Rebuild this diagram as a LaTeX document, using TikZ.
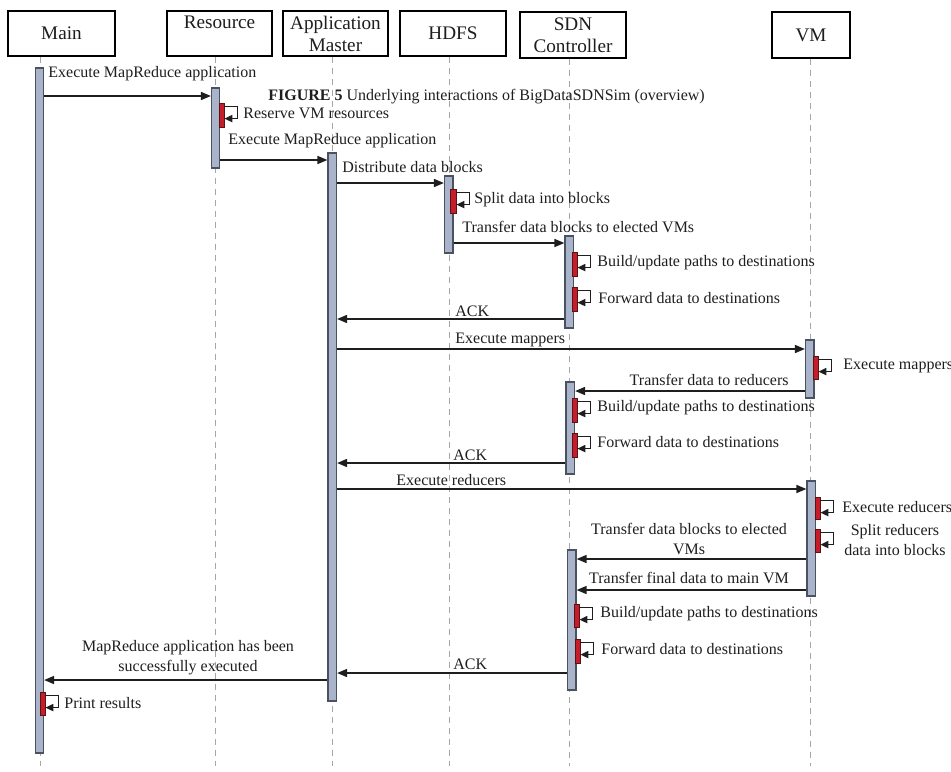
\documentclass[tikz,border=0pt]{standalone}
\usepackage{fontspec}
\setmainfont{Liberation Serif}
\usetikzlibrary{arrows.meta,fit}

\definecolor{ink}{HTML}{1E1E1E}
\definecolor{barfill}{HTML}{A9B4CA}
\definecolor{barline}{HTML}{4A5262}
\definecolor{redfill}{HTML}{C51D2A}
\definecolor{redline}{HTML}{5A1212}
\definecolor{lifegray}{HTML}{A6A6A6}

\newcommand{\headfont}{\fontsize{9.6}{11}\selectfont}
\newcommand{\msgfont}{\fontsize{8}{10}\selectfont}

\tikzset{
  head/.style={draw=black, line width=0.7pt, fill=white, inner sep=0pt,
    align=center, font=\headfont, text=ink, minimum height=22.5pt},
  life/.style={draw=lifegray, line width=0.5pt, dash pattern=on 3pt off 2.5pt},
  actbar/.style={draw=barline, fill=barfill, line width=0.6pt, inner sep=0pt},
  busybar/.style={draw=redline, fill=redfill, line width=0.4pt, inner sep=0pt},
  msg/.style={draw=ink, line width=0.8pt, -{Triangle[length=5pt,width=4pt]}},
  selfmsg/.style={draw=ink, line width=0.7pt, -{Triangle[length=4pt,width=3.6pt]}},
  lbl/.style={font=\msgfont, text=ink, inner sep=0pt},
}

\begin{document}
\begin{tikzpicture}[x=0.5pt, y=-0.5pt]
\useasboundingbox (0,0) rectangle (951,771);

% participants
\node[head, minimum width=53.5pt]                    (hMain) at (61.5,33.5) {Main};
\node[head, minimum width=52.5pt]                    (hRes)  at (219.5,33.5) {Resource\\\mbox{}};
\node[head, minimum width=52.5pt]                    (hAM)   at (335.5,33.5) {Application\\Master};
\node[head, minimum width=53pt]                      (hHDFS) at (453,33.5) {HDFS};
\node[head, minimum width=53pt, minimum height=23pt] (hSDN)  at (573,35) {SDN\\Controller};
\node[head, minimum width=39pt, minimum height=23pt] (hVM)   at (811,35) {VM};

% lifeline ends
\coordinate (eMain) at (40,766);
\coordinate (eRes)  at (215,766);
\coordinate (eAM)   at (332,766);
\coordinate (eHDFS) at (449,766);
\coordinate (eSDN)  at (569,766);
\coordinate (eVM)   at (810,766);

\draw[life] (hMain.south -| eMain) -- (eMain);
\draw[life] (hRes.south -| eRes)   -- (eRes);
\draw[life] (hAM.south -| eAM)     -- (eAM);
\draw[life] (hHDFS.south -| eHDFS) -- (eHDFS);
\draw[life] (hSDN.south -| eSDN)   -- (eSDN);
\draw[life] (hVM.south -| eVM)     -- (eVM);

% activation bars
\node[actbar, fit={(35.5,68)(43.5,753)}]  (bMain) {};
\node[actbar, fit={(211.5,88)(219.5,168)}] (bRes)  {};
\node[actbar, fit={(328,153)(336.5,701)}]  (bAM)   {};
\node[actbar, fit={(444.5,176)(453,253)}]  (bHDFS) {};
\node[actbar, fit={(565,236)(573.5,328)}]  (bSDN1) {};
\node[actbar, fit={(805.5,340)(814,398)}]  (bVM1)  {};
\node[actbar, fit={(566,382)(574.5,474)}]  (bSDN2) {};
\node[actbar, fit={(807,481)(815.5,596)}]  (bVM2)  {};
\node[actbar, fit={(567.5,550)(576,690)}]  (bSDN3) {};

% busy (self-call) bars
\node[busybar, fit={(219,103)(224,127)}] (rRes)   {};
\node[busybar, fit={(450,189)(456,213)}] (rHDFS)  {};
\node[busybar, fit={(572,252)(577,276)}] (rSDN1a) {};
\node[busybar, fit={(572,287)(577,311)}] (rSDN1b) {};
\node[busybar, fit={(813,356)(818,379)}] (rVM1)   {};
\node[busybar, fit={(572,398)(577,422)}] (rSDN2a) {};
\node[busybar, fit={(572,433)(577,457)}] (rSDN2b) {};
\node[busybar, fit={(815,497)(820,519)}] (rVM2a)  {};
\node[busybar, fit={(815,529)(820,552)}] (rVM2b)  {};
\node[busybar, fit={(574,604)(579,627)}] (rSDN3a) {};
\node[busybar, fit={(575,639)(580,663)}] (rSDN3b) {};
\node[busybar, fit={(40,692)(45,715)}]   (rMain)  {};

% self calls
\foreach \r in {rRes,rHDFS,rSDN1a,rSDN1b,rVM1,rSDN2a,rSDN2b,rVM2a,rVM2b,rSDN3a,rSDN3b,rMain}
  \draw[selfmsg] ([yshift=-2pt]\r.north east) -- ++(13,0) -- ++(0,12) -- ++(-13,0);

% message levels
\coordinate (m1)  at (0,96);
\coordinate (m2)  at (0,160);
\coordinate (m3)  at (0,183);
\coordinate (m4)  at (0,243);
\coordinate (m5)  at (0,319);
\coordinate (m6)  at (0,349);
\coordinate (m7)  at (0,391);
\coordinate (m8)  at (0,463);
\coordinate (m9)  at (0,489);
\coordinate (m10) at (0,559);
\coordinate (m11) at (0,590);
\coordinate (m12) at (0,673);
\coordinate (m13) at (0,680);

% messages
\draw[msg] (bMain.east |- m1)  -- (bRes.west |- m1);
\draw[msg] (bRes.east |- m2)   -- (bAM.west |- m2);
\draw[msg] (bAM.east |- m3)    -- (bHDFS.west |- m3);
\draw[msg] (bHDFS.east |- m4)  -- (bSDN1.west |- m4);
\draw[msg] (bSDN1.west |- m5)  -- (bAM.east |- m5);
\draw[msg] (bAM.east |- m6)    -- (bVM1.west |- m6);
\draw[msg] (bVM1.west |- m7)   -- (bSDN2.east |- m7);
\draw[msg] (bSDN2.west |- m8)  -- (bAM.east |- m8);
\draw[msg] (bAM.east |- m9)    -- (bVM2.west |- m9);
\draw[msg] (bVM2.west |- m10)  -- (bSDN3.east |- m10);
\draw[msg] (bVM2.west |- m11)  -- (bSDN3.east |- m11);
\draw[msg] (bSDN3.west |- m12) -- (bAM.east |- m12);
\draw[msg] (bAM.west |- m13)   -- (bMain.east |- m13);

% labels
\node[lbl, anchor=west] (t1)  at (48,74)   {Execute MapReduce application};
\node[lbl, anchor=west] (tRes) at (243,113) {Reserve VM resources};
\node[lbl, anchor=west] (cap) at (268,97)  {\bfseries FIGURE 5\mdseries{} Underlying interactions of BigDataSDNSim (overview)};
\node[lbl, anchor=west] (t2)  at (228,141) {Execute MapReduce application};
\node[lbl, anchor=west] (t3)  at (342,167) {Distribute data blocks};
\node[lbl, anchor=west] (tHD) at (474,200) {Split data into blocks};
\node[lbl, anchor=west] (t4)  at (462,227) {Transfer data blocks to elected VMs};
\node[lbl, anchor=west] (tS1a) at (597,263) {Build/update paths to destinations};
\node[lbl, anchor=west] (tS1b) at (598,298) {Forward data to destinations};
\node[lbl, anchor=west] (t5)  at (455,311) {ACK};
\node[lbl, anchor=west] (t6)  at (455,340) {Execute mappers};
\node[lbl, anchor=west] (tVM1) at (843,366) {Execute mappers};
\node[lbl, anchor=east] (t7)  at (789,380) {Transfer data to reducers};
\node[lbl, anchor=west] (tS2a) at (597,408) {Build/update paths to destinations};
\node[lbl, anchor=west] (tS2b) at (597,442) {Forward data to destinations};
\node[lbl, anchor=west] (t8)  at (453,455) {ACK};
\node[lbl, anchor=west] (t9)  at (396,480) {Execute reducers};
\node[lbl, anchor=west] (tVM2a) at (842,507) {Execute reducers};
\node[lbl, align=center] (tVM2b) at (895,540) {Split reducers\\data into blocks};
\node[lbl, align=center] (t10) at (689,539) {Transfer data blocks to elected\\VMs};
\node[lbl] (t11) at (689,578) {Transfer final data to main VM};
\node[lbl, anchor=west] (tS3a) at (600,614) {Build/update paths to destinations};
\node[lbl, anchor=west] (tS3b) at (601,649) {Forward data to destinations};
\node[lbl, anchor=west] (t12) at (453,664) {ACK};
\node[lbl, align=center] (t13) at (188,658) {MapReduce application has been\\successfully executed};
\node[lbl, anchor=west] (tMain) at (64,703) {Print results};

\end{tikzpicture}
\end{document}
